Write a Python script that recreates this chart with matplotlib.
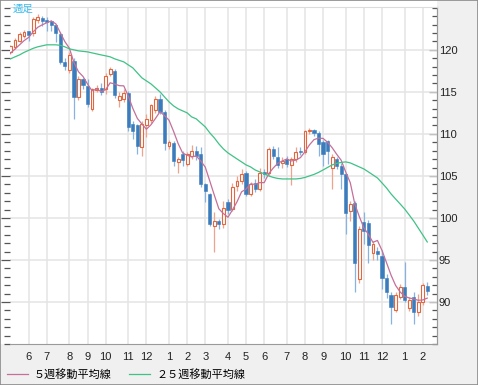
import matplotlib
matplotlib.use("Agg")
import matplotlib.pyplot as plt
from matplotlib.patches import Rectangle
from matplotlib.ticker import MultipleLocator, FixedLocator, NullFormatter

plt.rcParams['font.family'] = ['Liberation Sans', 'Noto Sans CJK JP', 'DejaVu Sans']

# weekly candles (oldest first)
opens = [119.8, 120.3, 121.1, 121.7, 122.2, 122.0, 123.5, 123.8, 123.6, 123.4,
         122.9, 121.9, 118.6, 117.6, 118.7, 114.4, 116.5, 115.7, 113.0, 115.2,
         115.5, 115.3, 117.1, 117.5, 114.0, 114.1, 114.9, 111.2, 111.0, 108.4,
         111.0, 111.6, 112.8, 114.2, 112.6, 108.6, 108.9, 106.6, 107.6, 106.4,
         107.4, 108.0, 107.6, 104.0, 102.8, 99.1, 99.6, 99.3, 101.9, 101.1,
         103.8, 104.4, 105.4, 102.9, 104.2, 103.5, 105.5, 105.3, 108.2, 107.2,
         106.5, 107.0, 106.3, 107.0, 108.0, 107.8, 110.3, 110.5, 110.1, 109.0,
         109.1, 105.9, 107.0, 106.2, 105.2, 100.8, 101.8, 92.7, 99.5, 99.4,
         95.8, 96.1, 95.5, 92.9, 90.8, 89.1, 90.6, 91.8, 89.3, 90.6,
         88.8, 90.0, 91.9]
highs = [120.6, 121.4, 122.1, 122.4, 122.3, 123.9, 124.3, 124.0, 123.9, 123.6,
         123.1, 122.1, 119.0, 119.7, 119.0, 116.9, 116.7, 116.5, 115.5, 115.8,
         116.1, 117.3, 118.0, 117.7, 115.0, 115.4, 115.1, 111.5, 111.2, 111.5,
         112.4, 113.6, 114.5, 114.8, 112.8, 109.3, 109.2, 107.2, 108.0, 107.8,
         108.7, 108.6, 108.4, 104.2, 103.0, 100.7, 99.9, 102.0, 102.3, 104.2,
         105.0, 105.8, 105.6, 104.3, 104.6, 106.0, 105.8, 108.5, 108.6, 108.4,
         107.3, 107.4, 107.2, 108.4, 108.4, 110.5, 110.7, 110.6, 110.3, 109.3,
         109.3, 107.6, 107.3, 106.5, 105.4, 102.0, 102.0, 99.0, 100.7, 99.7,
         97.3, 96.5, 96.2, 93.3, 91.2, 91.2, 92.1, 94.8, 90.6, 91.2,
         91.0, 92.3, 92.4]
lows = [119.5, 120.1, 120.9, 121.4, 121.0, 121.7, 123.2, 122.8, 122.2, 122.2,
        120.9, 118.3, 117.6, 117.2, 111.8, 114.0, 115.3, 113.2, 112.7, 115.0,
        114.6, 114.8, 116.9, 114.3, 113.2, 113.8, 110.4, 109.4, 107.6, 107.4,
        109.6, 111.3, 112.5, 112.4, 108.1, 108.2, 106.2, 105.4, 106.2, 106.2,
        107.0, 106.9, 103.7, 101.9, 99.0, 96.0, 98.7, 98.8, 100.5, 100.8,
        103.2, 104.0, 102.6, 102.6, 103.1, 103.2, 104.8, 105.0, 107.0, 106.0,
        106.0, 106.1, 103.9, 106.7, 107.5, 107.6, 110.0, 109.8, 107.4, 106.2,
        106.4, 103.5, 105.8, 103.5, 98.1, 99.6, 91.2, 92.3, 96.9, 94.6,
        95.0, 95.0, 91.6, 90.5, 87.4, 88.8, 90.3, 90.0, 88.9, 87.4,
        88.3, 89.6, 90.8]
closes = [120.4, 121.2, 121.9, 122.1, 121.8, 123.7, 123.9, 123.4, 123.3, 122.9,
          122.0, 118.6, 118.1, 119.4, 114.4, 116.5, 115.8, 113.6, 115.3, 115.5,
          115.0, 116.9, 117.7, 114.6, 114.5, 114.9, 110.8, 110.4, 108.6, 111.2,
          111.8, 113.4, 114.2, 112.6, 108.9, 109.0, 106.8, 107.0, 106.9, 107.6,
          108.0, 107.4, 104.0, 103.2, 99.3, 99.6, 99.3, 101.2, 101.0, 103.7,
          104.4, 105.2, 102.9, 104.0, 103.5, 105.4, 105.2, 108.2, 107.4, 106.3,
          106.8, 106.4, 107.0, 107.9, 107.8, 110.3, 110.5, 110.1, 108.8, 107.6,
          108.0, 107.3, 106.2, 105.2, 100.6, 101.7, 94.6, 98.7, 98.5, 96.8,
          96.9, 95.7, 92.8, 91.2, 89.4, 90.8, 91.8, 90.2, 90.2, 88.8,
          90.0, 92.0, 91.3]

# moving averages
ma5 = [119.6, 120.1, 120.6, 121.1, 121.48, 122.14, 122.68, 122.98, 123.22, 123.44,
       123.10, 122.04, 120.98, 120.20, 118.50, 117.40, 116.84, 115.94, 115.12, 115.34,
       115.04, 115.26, 116.08, 115.94, 115.74, 115.72, 114.50, 113.04, 111.84, 111.18,
       110.56, 111.08, 111.84, 112.64, 112.18, 111.62, 110.30, 108.86, 107.72, 107.46,
       107.26, 107.38, 106.78, 106.04, 104.38, 102.70, 101.08, 100.52, 100.08, 100.96,
       101.92, 103.10, 103.44, 104.04, 104.00, 104.20, 104.20, 105.26, 105.94, 106.50,
       106.78, 107.02, 106.78, 106.88, 107.18, 107.88, 108.70, 109.32, 109.50, 109.46,
       109.00, 108.36, 107.58, 106.86, 105.46, 104.20, 101.66, 100.16, 98.82, 98.06,
       97.10, 97.32, 96.14, 94.68, 93.20, 91.98, 91.20, 90.68, 90.48, 90.36,
       90.20, 90.24, 90.46]
ma25 = [118.93, 119.17, 119.40, 119.70, 119.94, 120.18, 120.36, 120.48, 120.60, 120.60,
        120.60, 120.54, 120.36, 120.12, 120.00, 119.88, 119.82, 119.76, 119.64, 119.52,
        119.40, 119.29, 119.17, 118.93, 118.75, 118.57, 118.21, 117.86, 117.26, 116.67,
        116.31, 115.95, 115.48, 115.00, 114.40, 113.81, 113.33, 112.98, 112.74, 112.50,
        112.02, 111.79, 111.31, 110.83, 110.12, 109.52, 108.81, 108.21, 107.74, 107.38,
        107.02, 106.67, 106.31, 106.07, 105.71, 105.48, 105.24, 105.00, 104.82, 104.70,
        104.64, 104.64, 104.64, 104.64, 104.70, 104.82, 105.00, 105.18, 105.42, 105.71,
        106.01, 106.31, 106.49, 106.61, 106.67, 106.55, 106.31, 106.07, 105.83, 105.48,
        105.12, 104.76, 104.17, 103.57, 102.86, 102.26, 101.67, 101.07, 100.36, 99.64,
        98.81, 97.98, 97.14]

# first week of each month (week index) and its label
month_weeks = [4, 8, 13, 17, 21, 26, 30, 35, 39, 43, 48, 52, 56, 61, 65, 69, 74, 78, 82, 87, 91]
month_labels = ['6', '7', '8', '9', '10', '11', '12', '1', '2', '3', '4',
                '5', '6', '7', '8', '9', '10', '11', '12', '1', '2']
price_ticks = [90, 95, 100, 105, 110, 115, 120]

W, H = 478, 385
fig = plt.figure(figsize=(W / 100, H / 100), dpi=100, facecolor='white')

# grey panels right and bottom (behind the axes)
fig.patches.append(Rectangle((437 / W, 0), 1, 1, transform=fig.transFigure,
                             facecolor='#f0f0f0', edgecolor='none', zorder=-2))
fig.patches.append(Rectangle((0, 0), 1, 1 - 344 / H, transform=fig.transFigure,
                             facecolor='#f0f0f0', edgecolor='none', zorder=-2))

ax = fig.add_axes([9.5 / W, 1 - 344 / H, (436.7 - 9.5) / W, (344 - 7) / H])
ax.set_facecolor('white')

x = list(range(len(closes)))
up = [c >= o for o, c in zip(opens, closes)]

red_edge = '#e2673f'
red_wick = '#eea38c'
blue_body = '#3b7cbc'
blue_wick = '#86b3df'

wick_colors = [red_wick if u else blue_wick for u in up]
ax.vlines(x, lows, highs, colors=wick_colors, linewidth=0.9, zorder=2)

for i in x:
    o, c = opens[i], closes[i]
    h = max(abs(c - o), 0.08)
    b = min(o, c)
    if up[i]:
        ax.bar(i, h, bottom=b, width=0.62, facecolor='white', edgecolor=red_edge,
               linewidth=0.8, zorder=3)
    else:
        ax.bar(i, h, bottom=b, width=0.7, facecolor=blue_body, edgecolor=blue_body,
               linewidth=0.4, zorder=3)

l5, = ax.plot(x, ma5, color='#c4709a', linewidth=0.9, zorder=4, label='５週移動平均線')
l25, = ax.plot(x, ma25, color='#3fc286', linewidth=0.9, zorder=4, label='２５週移動平均線')

ax.set_xlim(-0.22, 94.08)
ax.set_ylim(85.0, 125.1)

# grid
ax.xaxis.set_major_locator(FixedLocator(month_weeks))
ax.set_xticklabels(month_labels)
ax.yaxis.set_major_locator(FixedLocator(price_ticks))
ax.yaxis.set_minor_locator(MultipleLocator(1))
ax.grid(True, which='major', color='#e4e4e4', linewidth=1.1, zorder=0)
ax.set_axisbelow(True)

ax.tick_params(axis='x', length=0, pad=6, labelsize=8, labelcolor='#222222')
ax.tick_params(axis='y', which='major', direction='out', length=6.8, width=0.9,
               color='#555555', labelleft=False)
ax.tick_params(axis='y', which='minor', direction='out', length=4.2, width=0.9,
               color='#555555')

# right side price scale
ax_r = ax.secondary_yaxis('right')
ax_r.yaxis.set_major_locator(FixedLocator(price_ticks))
ax_r.yaxis.set_minor_locator(MultipleLocator(1))
ax_r.yaxis.set_minor_formatter(NullFormatter())
ax_r.tick_params(which='major', direction='in', length=5.8, width=0.9, color='#555555',
                 pad=1.5, labelsize=8, labelcolor='#222222')
ax_r.tick_params(which='minor', direction='in', length=3.6, width=0.9, color='#555555')
ax_r.spines['right'].set_color('#9a9a9a')

ax.spines['top'].set_color('#dcdcdc')
ax.spines['left'].set_visible(False)
ax.spines['right'].set_color('#9a9a9a')
ax.spines['bottom'].set_color('#9a9a9a')

fig.text(13 / W, 1 - 8.5 / H, '週足', color='#3bbcec', fontsize=7.5,
         va='center', ha='left')

fig.legend(handles=[l5, l25], loc='center left', bbox_to_anchor=(7 / W, 1 - 374 / H),
           ncol=2, frameon=False, fontsize=8, handlelength=1.9, handletextpad=0.5,
           columnspacing=1.6, borderaxespad=0, borderpad=0)

# outer frame
fig.patches.append(Rectangle((0, 0), 1, 1, transform=fig.transFigure, fill=False,
                             edgecolor='#8a8a8a', linewidth=1.2, zorder=10))

fig.savefig('out.png', dpi=100)
